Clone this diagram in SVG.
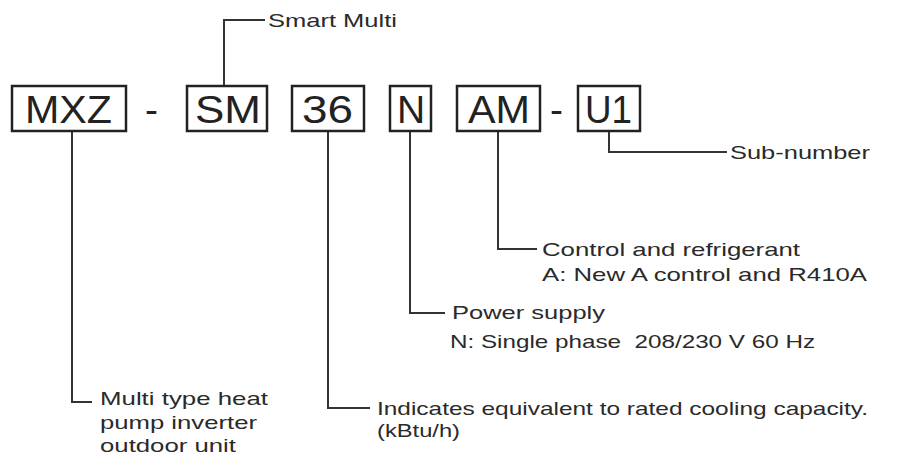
<svg xmlns="http://www.w3.org/2000/svg" width="898" height="465" viewBox="0 0 898 465">
<style>
.box{fill:none;stroke:#222;stroke-width:2.5}
.code{font-family:"Liberation Sans",Arial,sans-serif;font-size:39px;fill:#222;text-anchor:middle}
.lbl{font-family:"Liberation Sans",Arial,sans-serif;font-size:19px;fill:#2a2a2a}
.conn{fill:none;stroke:#333;stroke-width:2}
</style>
<rect width="898" height="465" fill="#fff"/>
<g id="connectors">
<path class="conn" d="M224 86V20H265"/>
<path class="conn" d="M72 131V402H92"/>
<path class="conn" d="M328 131V408H370"/>
<path class="conn" d="M410 131V313H445"/>
<path class="conn" d="M498 131V249H537"/>
<path class="conn" d="M609 131V152H727"/>
</g>
<g id="node-mxz">
<rect class="box" x="12" y="86" width="114" height="45"/>
<text class="code" x="68.5" y="123" textLength="87" lengthAdjust="spacingAndGlyphs">MXZ</text>
</g>
<g id="dash1"><text class="code" x="151.5" y="123">-</text></g>
<g id="node-sm">
<rect class="box" x="187" y="86" width="80" height="45"/>
<text class="code" x="228" y="123" textLength="66" lengthAdjust="spacingAndGlyphs">SM</text>
</g>
<g id="node-36">
<rect class="box" x="292" y="86" width="72" height="45"/>
<text class="code" x="327.5" y="123" textLength="51" lengthAdjust="spacingAndGlyphs">36</text>
</g>
<g id="node-n">
<rect class="box" x="390" y="86" width="41" height="45"/>
<text class="code" x="411" y="123">N</text>
</g>
<g id="node-am">
<rect class="box" x="457" y="86" width="83" height="45"/>
<text class="code" x="499" y="123" textLength="62" lengthAdjust="spacingAndGlyphs">AM</text>
</g>
<g id="dash2"><text class="code" x="556.5" y="123">-</text></g>
<g id="node-u1">
<rect class="box" x="578" y="86" width="62" height="45"/>
<text class="code" x="608.5" y="123" textLength="47" lengthAdjust="spacingAndGlyphs">U1</text>
</g>
<g id="label-smart">
<text class="lbl" x="268" y="27" textLength="129" lengthAdjust="spacingAndGlyphs">Smart Multi</text>
</g>
<g id="label-sub">
<text class="lbl" x="730" y="159" textLength="140" lengthAdjust="spacingAndGlyphs">Sub-number</text>
</g>
<g id="label-control">
<text class="lbl" x="542" y="256" textLength="258" lengthAdjust="spacingAndGlyphs">Control and refrigerant</text>
<text class="lbl" x="542" y="281" textLength="325" lengthAdjust="spacingAndGlyphs">A: New A control and R410A</text>
</g>
<g id="label-power">
<text class="lbl" x="452" y="319" textLength="153" lengthAdjust="spacingAndGlyphs">Power supply</text>
<text class="lbl" x="450" y="348" textLength="365" lengthAdjust="spacingAndGlyphs" xml:space="preserve">N: Single phase  208/230 V 60 Hz</text>
</g>
<g id="label-capacity">
<text class="lbl" x="377" y="415" textLength="491" lengthAdjust="spacingAndGlyphs">Indicates equivalent to rated cooling capacity.</text>
<text class="lbl" x="377" y="437" textLength="83" lengthAdjust="spacingAndGlyphs">(kBtu/h)</text>
</g>
<g id="label-multi">
<text class="lbl" x="100" y="405" textLength="168" lengthAdjust="spacingAndGlyphs">Multi type heat</text>
<text class="lbl" x="100" y="429" textLength="157" lengthAdjust="spacingAndGlyphs">pump inverter</text>
<text class="lbl" x="100" y="452" textLength="136" lengthAdjust="spacingAndGlyphs">outdoor unit</text>
</g>
</svg>
